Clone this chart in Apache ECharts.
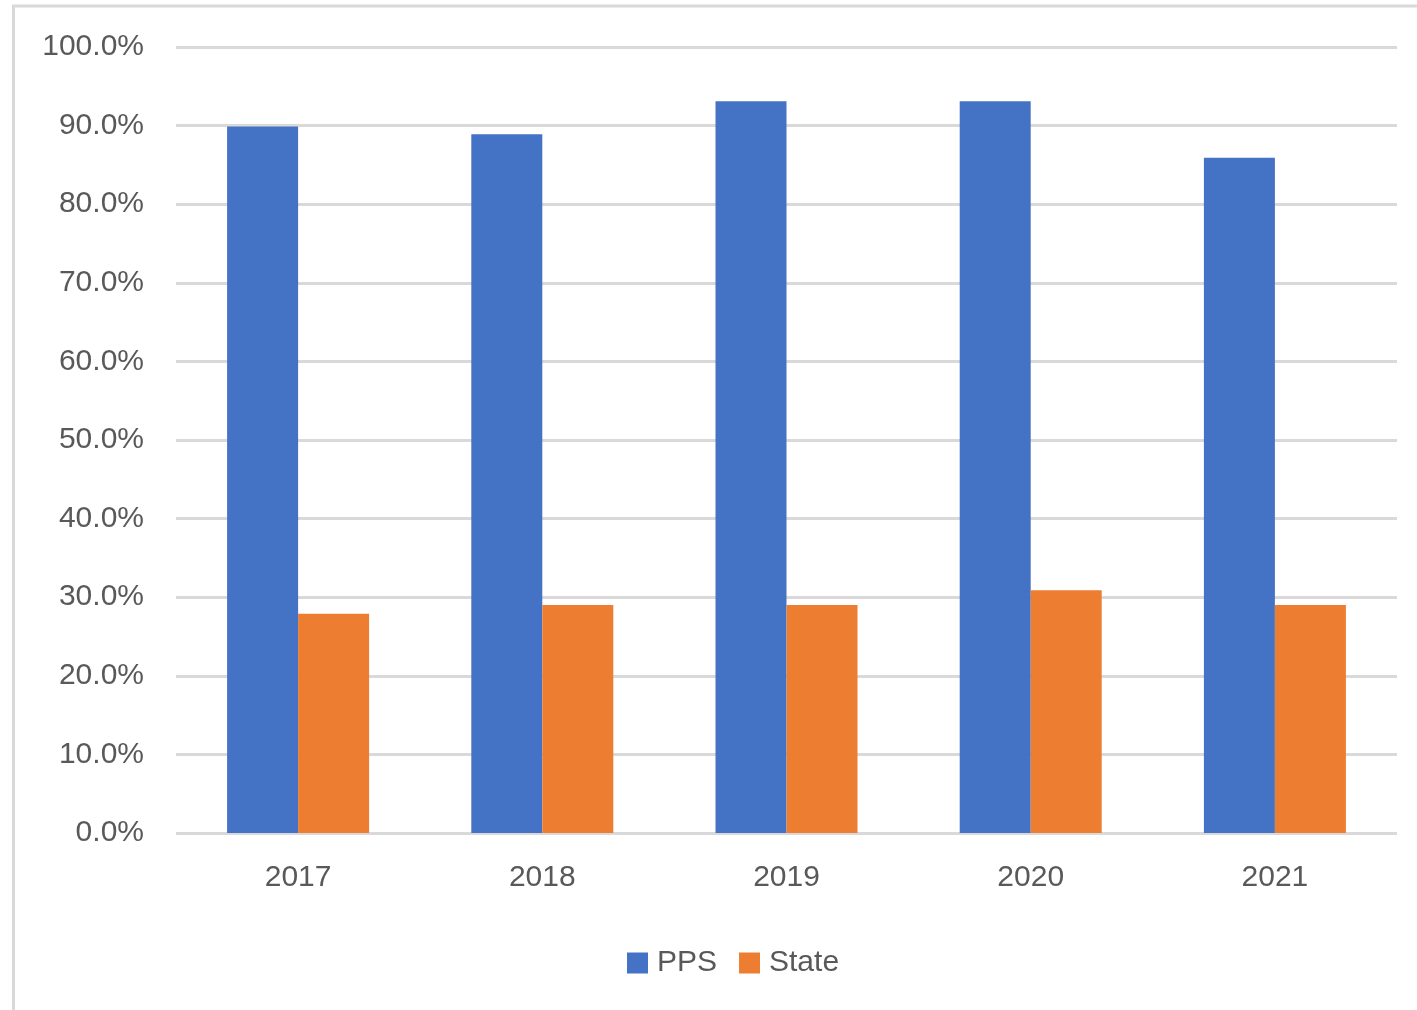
<!DOCTYPE html>
<html>
<head>
<meta charset="utf-8">
<style>
  html, body { margin: 0; padding: 0; background: #fff; }
  #chart { width: 1417px; height: 1010px; }
</style>
<script src="https://cdn.jsdelivr.net/npm/echarts@6/dist/echarts.min.js"></script>
</head>
<body>
<div id="chart"></div>
<script>
const years = ["2017", "2018", "2019", "2020", "2021"];
const ppsValues = [0.899, 0.889, 0.931, 0.931, 0.859];
const stateValues = [0.279, 0.290, 0.290, 0.309, 0.290];

const textColor = "#595959";
const fontFamily = "'Liberation Sans', Arial, sans-serif";

const chart = echarts.init(document.getElementById("chart"));
const option = {
    animation: false,
    textStyle: { fontFamily: fontFamily },
    graphic: [
        // chart border (top and left only visible)
        { type: "line", shape: { x1: 12, y1: 6, x2: 1417, y2: 6 }, style: { stroke: "#d9d9d9", lineWidth: 3 } },
        { type: "line", shape: { x1: 13.5, y1: 5, x2: 13.5, y2: 1010 }, style: { stroke: "#d9d9d9", lineWidth: 3 } },
    ],
    grid: {
        left: 176,
        right: 20,
        top: 47,
        bottom: 177,
        containLabel: false,
    },
    legend: {
        data: ["PPS", "State"],
        top: 943,
        left: 622,
        itemWidth: 21,
        itemHeight: 21,
        itemGap: 22,
        icon: "rect",
        textStyle: { color: textColor, fontSize: 30, fontFamily: fontFamily, padding: [0, 0, 0, 4] },
    },
    xAxis: {
        type: "category",
        data: years,
        axisLine: { show: false },
        axisTick: { show: false },
        axisLabel: { color: textColor, fontSize: 30, margin: 30, fontFamily: fontFamily },
    },
    yAxis: {
        type: "value",
        min: 0,
        max: 1,
        interval: 0.1,
        axisLine: { show: false },
        axisTick: { show: false },
        axisLabel: {
            color: textColor,
            fontSize: 30,
            margin: 32,
            fontFamily: fontFamily,
            formatter: function (v) { return (v * 100).toFixed(1) + "%"; },
        },
        splitLine: { lineStyle: { color: "#d9d9d9", width: 3 } },
    },
    series: [
        {
            name: "PPS",
            type: "bar",
            data: ppsValues,
            barWidth: 71,
            barGap: "0%",
            itemStyle: { color: "#4472C4" },
        },
        {
            name: "State",
            type: "bar",
            data: stateValues,
            barWidth: 71,
            itemStyle: { color: "#ED7D31" },
        },
    ],
};
chart.setOption(option);
</script>
</body>
</html>
